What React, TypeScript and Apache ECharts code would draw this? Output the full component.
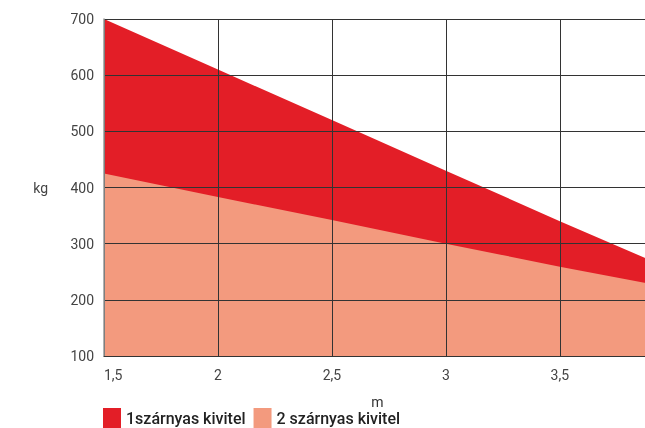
import React, { useEffect, useRef } from "react";
import * as echarts from "echarts";

const xValues = [1.5, 2, 2.5, 3, 3.5, 3.9];
const oneLeaf = [700, 610, 520, 430, 340, 270];
const twoLeaf = [425, 383, 342, 300, 259, 228];
const seriesNames = ["1szárnyas kivitel", "2 szárnyas kivitel"];
const yTicks = { min: 100, max: 700, interval: 100 };
const xRange = { min: 1.5, max: 3.9, interval: 0.5 };

const RED = "#E31E27";
const SALMON = "#F39A7E";

export default function App() {
  const ref = useRef<HTMLDivElement>(null);
  useEffect(() => {
    if (!ref.current) return;
    const chart = echarts.init(ref.current, null, { renderer: "svg" });
    const font = "Roboto, 'Noto Sans', sans-serif";
    chart.setOption({
      animation: false,
      textStyle: { fontFamily: font },
      grid: { left: 104, top: 19, bottom: 72, right: 9 },
      legend: {
        left: 103,
        top: 408,
        padding: 0,
        itemWidth: 18,
        itemHeight: 20,
        itemGap: 8,
        icon: "rect",
        textStyle: { fontSize: 16, fontWeight: 500, color: "#222", fontFamily: font, padding: [0, 0, 0, 0] },
        data: seriesNames,
      },
      xAxis: {
        type: "value",
        min: xRange.min,
        max: xRange.max,
        interval: xRange.interval,
        z: 5,
        name: "m",
        nameLocation: "middle",
        nameGap: 39,
        nameTextStyle: { fontSize: 14, color: "#333", fontFamily: font },
        axisLine: { show: true, lineStyle: { color: "#333", width: 1 } },
        axisTick: { show: false },
        axisLabel: {
          fontSize: 14,
          color: "#444",
          margin: 12,
          alignMinLabel: "left",
          showMaxLabel: false,
          formatter: (v: number) => {
            const r = Math.round(v * 2) / 2;
            if (Math.abs(r - v) > 1e-6) return "";
            return String(r).replace(".", ",");
          },
        },
        splitLine: { show: true, lineStyle: { color: "#333", width: 1 } },
      },
      yAxis: {
        type: "value",
        min: yTicks.min,
        max: yTicks.max,
        interval: yTicks.interval,
        z: 5,
        name: "kg",
        nameLocation: "middle",
        nameRotate: 0,
        nameGap: 56,
        nameTextStyle: { fontSize: 14, color: "#444", fontFamily: font },
        axisLine: { show: true, lineStyle: { color: "#999", width: 1.5 } },
        axisTick: { show: false },
        axisLabel: { fontSize: 14, color: "#444", margin: 10 },
        splitLine: { show: true, lineStyle: { color: "#333", width: 1 } },
      },
      series: [
        {
          name: seriesNames[0],
          type: "line",
          data: xValues.map((x, i) => [x, oneLeaf[i]]),
          showSymbol: false,
          lineStyle: { width: 0 },
          itemStyle: { color: RED },
          areaStyle: { color: RED, opacity: 1 },
          z: 1,
        },
        {
          name: seriesNames[1],
          type: "line",
          data: xValues.map((x, i) => [x, twoLeaf[i]]),
          showSymbol: false,
          lineStyle: { width: 0 },
          itemStyle: { color: SALMON },
          areaStyle: { color: SALMON, opacity: 1 },
          z: 2,
        },
      ],
    });
    return () => chart.dispose();
  }, []);
  return (
    <div
      ref={ref}
      style={{ position: "fixed", left: 0, top: 0, width: 660, height: 428 }}
    />
  );
}
